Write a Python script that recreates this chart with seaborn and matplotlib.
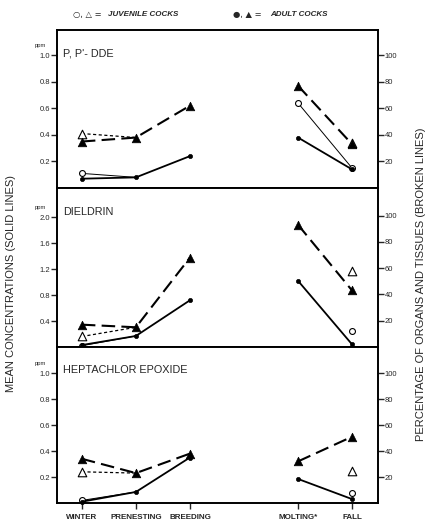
import numpy as np
import pandas as pd
import matplotlib
matplotlib.use("Agg")
import matplotlib.pyplot as plt
import seaborn as sns

# ---------------- data ----------------
seasons = ["WINTER", "PRENESTING", "BREEDING", "MOLTING*", "FALL"]
season_pos = [0, 1, 2, 4, 5]
segment = [0, 0, 0, 1, 1]

panel_titles = ["P, P'- DDE", "DIELDRIN", "HEPTACHLOR EPOXIDE"]

# mean concentrations (ppm, solid lines)
dde_adult_conc = [0.07, 0.08, 0.24, 0.38, 0.14]
dde_juv_conc = [0.11, 0.08, np.nan, 0.64, 0.15]
diel_adult_conc = [0.03, 0.17, 0.72, 1.02, 0.04]
diel_juv_conc = [0.02, 0.17, np.nan, np.nan, 0.25]
hept_adult_conc = [0.01, 0.085, 0.35, 0.185, 0.03]
hept_juv_conc = [0.02, 0.085, np.nan, np.nan, 0.08]

# percentage of organs and tissues (broken lines)
dde_adult_pct = [35, 38, 62, 77, 33]
dde_juv_pct = [41, 38, np.nan, np.nan, 34]
diel_adult_pct = [17, 15, 68, 93, 43]
diel_juv_pct = [8, 15, np.nan, np.nan, 58]
hept_adult_pct = [34, 23, 38, 32, 51]
hept_juv_pct = [24, 23, np.nan, np.nan, 25]

left_ticks = [[0.2, 0.4, 0.6, 0.8, 1.0], [0.4, 0.8, 1.2, 1.6, 2.0], [0.2, 0.4, 0.6, 0.8, 1.0]]
right_ticks = [20, 40, 60, 80, 100]

panels = [
    (dde_adult_conc, dde_juv_conc, dde_adult_pct, dde_juv_pct),
    (diel_adult_conc, diel_juv_conc, diel_adult_pct, diel_juv_pct),
    (hept_adult_conc, hept_juv_conc, hept_adult_pct, hept_juv_pct),
]
left_lims = [1.19, 2.45, 1.20]
right_lims = [119, 121, 120]

# ---------------- style ----------------
sns.set_style("white")
plt.rcParams["font.family"] = ["Liberation Sans", "DejaVu Sans"]
plt.rcParams["axes.linewidth"] = 1.2

fig = plt.figure(figsize=(4.28, 5.22), dpi=100)

W = 428.0
H = 522.0
x0, x1 = 57, 378
bounds = [(30, 188), (188, 347), (347, 503)]


def frame(vals, other=None):
    df = pd.DataFrame({"x": season_pos, "v": vals, "seg": segment})
    df["own"] = True
    if other is not None:
        df["own"] = ~np.isclose(np.asarray(vals, float), np.asarray(other, float))
    return df.dropna(subset=["v"])


def draw_series(ax, vals, lw, ls, marker, s, filled, z, other=None):
    df = frame(vals, other)
    sns.lineplot(data=df, x="x", y="v", units="seg", estimator=None, ax=ax,
                 color="black", lw=lw, linestyle=ls, zorder=z, clip_on=False)
    pts = df[df["own"]]
    if filled:
        sns.scatterplot(data=pts, x="x", y="v", ax=ax, marker=marker, s=s,
                        color="black", edgecolor="black", linewidth=0.5,
                        zorder=z + 1, clip_on=False)
    else:
        sns.scatterplot(data=pts, x="x", y="v", ax=ax, marker=marker, s=s,
                        color="white", edgecolor="black", linewidth=0.8,
                        zorder=z + 1, clip_on=False)


for i, ((top, bot), series) in enumerate(zip(bounds, panels)):
    a_conc, j_conc, a_pct, j_pct = series
    ax = fig.add_axes([x0 / W, 1 - bot / H, (x1 - x0) / W, (bot - top) / H])
    ax2 = ax.twinx()

    draw_series(ax, j_conc, 0.7, "-", "o", 18, False, 3, other=a_conc)
    draw_series(ax, a_conc, 1.3, "-", "o", 9, True, 5)
    draw_series(ax2, j_pct, 0.9, (0, (2.5, 2)), "^", 38, False, 3, other=a_pct)
    draw_series(ax2, a_pct, 1.5, (0, (6.5, 3)), "^", 38, True, 5)

    ax.set_xlim(-0.46, 5.48)
    ax.set_ylim(0, left_lims[i])
    ax2.set_ylim(0, right_lims[i])

    ax.set_yticks(left_ticks[i])
    ax.set_yticklabels([f"{t:.1f}" for t in left_ticks[i]])
    ax2.set_yticks(right_ticks)
    ax2.set_yticklabels([str(t) for t in right_ticks])

    ax.set_xticks(season_pos)
    if i == 2:
        ax.set_xticklabels(seasons, fontsize=5.8, fontweight="bold")
    else:
        ax.set_xticklabels([])

    ax.tick_params(axis="x", direction="out", length=4, width=1, pad=4, bottom=True)
    ax.tick_params(axis="y", direction="out", length=4, width=1, labelsize=5.5, pad=1, left=True)
    ax2.tick_params(axis="y", direction="out", length=4, width=1, labelsize=5.5, pad=1, right=True)

    for a in (ax, ax2):
        a.set_xlabel("")
        a.set_ylabel("")
        for sp in a.spines.values():
            sp.set_linewidth(1.2)
            sp.set_color("black")

    ax.text(0.02, 0.85, panel_titles[i], transform=ax.transAxes,
            fontsize=7.8, va="center", ha="left")
    ax.annotate("ppm", xy=(0, left_ticks[i][-1]), xycoords=("axes fraction", "data"),
                xytext=(-12, 7), textcoords="offset points",
                fontsize=4.2, ha="center", va="center")

# legend text at the top
fig.text(73 / W, 1 - 14 / H, "○, △ =", fontsize=6, va="center", ha="left",
         family=["DejaVu Sans"])
fig.text(108 / W, 1 - 14 / H, "JUVENILE COCKS", fontsize=5.8, va="center", ha="left",
         style="italic", fontweight="bold")
fig.text(233 / W, 1 - 14 / H, "●, ▲ =", fontsize=6, va="center", ha="left",
         family=["DejaVu Sans"])
fig.text(270 / W, 1 - 14 / H, "ADULT COCKS", fontsize=5.8, va="center", ha="left",
         style="italic", fontweight="bold")

# axis titles
fig.text(11 / W, 1 - 283 / H, "MEAN CONCENTRATIONS (SOLID LINES)", rotation=90,
         fontsize=8, va="center", ha="center")
fig.text(421 / W, 1 - 284 / H, "PERCENTAGE OF ORGANS AND TISSUES (BROKEN LINES)",
         rotation=90, fontsize=8, va="center", ha="center")

fig.savefig("out.png", dpi=100, facecolor="white")
